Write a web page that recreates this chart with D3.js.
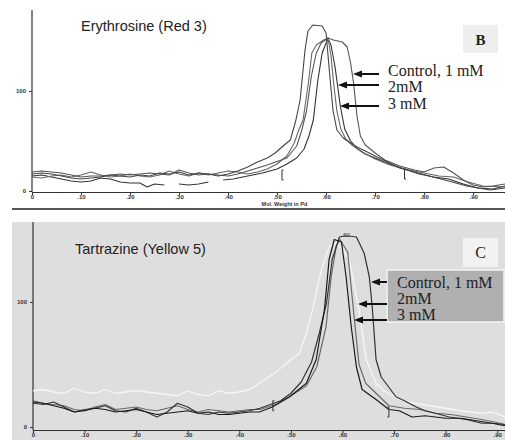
<!DOCTYPE html>
<html><head><meta charset="utf-8">
<script src="https://cdn.jsdelivr.net/npm/d3@7"></script>
<style>body{margin:0;background:#fff}svg{display:block}</style>
</head><body>
<script>
// ---- data: panel B (Erythrosine) [mol. weight unit, signal] ----
const bTicks = [0,10,20,30,40,50,60,70,80,90];
const bYTicks = [0,100];
const bCurveA = [[0,17],[2,18],[4,17],[6,15],[8,13],[10,12],[12,13],[14,14],[16,16],[18,15],[20,14],[22,16],[24,15],[26,18],[28,17],[30,19],[32,16],[34,18],[36,17],[38,15],[40,17],[42,20],[44,24],[46,29],[48,33],[49.6,38],[51,44],[52.7,51],[53.8,70],[54.7,91],[55.7,141],[56.3,160],[57.3,166],[59.2,165],[60,158],[60.6,124],[61.4,81],[62.2,61],[63.5,53],[65,48],[66.3,44],[68,40],[70.4,34],[73,28],[75,23],[78,19],[81.8,14],[85,10],[88.7,5],[91,3],[93.5,1],[96.5,3]];
const bCurveB = [[0,19],[2,20],[4,19],[6,18],[8,16],[10,14],[12,15],[14,15],[16,16],[18,17],[20,16],[22,17],[24,18],[26,17],[28,16],[30,21],[32,18],[34,16],[36,17],[38,16],[40,15],[42,17],[44,20],[48,26],[52,33],[54,45],[55,60],[56,80],[57,115],[58,138],[59,148],[60.4,153],[61.5,151],[63.3,149],[64.3,144],[65,128],[65.6,108],[66.3,75],[67,55],[68,46],[70,38],[72,31],[75,25],[78,21],[80,19],[82,23],[84,24],[86,18],[88,11],[90,6],[92,4],[94,5],[96.5,7]];
const bCurveC = [[0,14],[2,13],[4,15],[6,16],[8,14],[10,16],[12,19],[14,16],[16,14],[18,15],[20,17],[22,15],[24,14],[26,16],[28,20],[30,17],[32,15],[34,18],[36,16],[38,18],[40,20],[42,19],[44,17],[46,19],[48,22],[50,27],[52,35],[53.5,48],[54.5,62],[55.3,71],[56.3,105],[57.1,138],[58,146],[59.5,151],[60.4,153],[61,135],[61.6,105],[62.2,80],[63,62],[64,52],[65.5,45],[67,40],[70,32],[73,26],[76,22],[80,18],[83,15],[86,14],[89,9],[92,5],[96.5,4]];
const bCurveD = [[0,15],[2,16],[4,14],[6,12],[8,10],[10,9],[12,10],[14,13],[16,12],[18,9],[20,8],[22,8],[23.5,4],[25,7],[27,6],[29,null],[30,7],[32,6],[34,7],[36,9],[38,null],[39,11],[41,12],[44,15],[47,18],[50,22],[52,27],[54,33],[55.5,42],[56.5,55],[57.4,71],[58.3,110],[59.2,138],[60,148],[60.4,152],[61,146],[61.8,125],[62.9,85],[63.8,62],[65,50],[66.5,42],[68,37],[70,33],[73,27],[76,22],[79,17],[82,14],[85,12],[88,7],[91,3],[94,2],[96.5,5]];

// ---- data: panel C (Tartrazine) ----
const cTicks = [0,10,20,30,40,50,60,70,80,90];
const cYTicks = [0,100];
const cCurveE = [[0,20],[2,19],[4,17],[6,15],[8,12],[10,13],[12,15],[14,14],[16,12],[18,13],[20,14],[22,12],[24,10],[26,11],[28,12],[30,13],[32,11],[34,12],[36,10],[38,10],[40,11],[42,12],[43.9,12],[46.4,16],[49.7,24],[53,35],[54.9,54],[56.5,94],[57.4,134],[58.4,150],[59.8,148],[60.7,120],[61.7,80],[62.7,48],[63.8,30],[66.5,22],[69,14],[71,13],[73.5,8],[76,9],[78,8],[80,7],[83,7],[86,5],[89,3],[91.5,1]];
const cCurveF = [[0,19],[2,18],[4,20],[6,16],[8,12],[10,14],[12,15],[14,17],[16,13],[18,12],[20,15],[22,12],[24,8],[26,12],[28,19],[30,16],[32,11],[34,10],[36,12],[38,11],[40,12],[42,13],[44,15],[46,18],[48,21],[50,27],[52,36],[54,52],[55.5,75],[56.9,99],[58,134],[59.4,152],[60.7,153],[62.7,152],[64.2,139],[65.2,120],[65.8,94],[66.5,54],[67.5,40],[70.4,24],[72,21],[74.3,16],[76,13],[78,11],[80.7,8],[84,6],[87,3],[89,3],[91.5,2]];
const cCurveG = [[0,29],[2,30],[4,28],[6,27],[8,31],[10,28],[12,27],[14,30],[16,27],[18,28],[20,29],[22,28],[24,27],[26,26],[28,25],[30,29],[32,26],[34,25],[36,29],[38,27],[40,28],[42,30],[45.8,40],[48,47],[51.6,59],[53,75],[54.2,94],[55.9,126],[57.4,144],[58.8,147],[60,142],[61.3,134],[63.2,94],[64.6,54],[66.5,35],[68,29],[71,22],[74,19],[77,17],[80,15],[83,13],[87,11],[89,12],[91.5,8]];
const cCurveH = [[0,21],[2,19],[4,18],[6,17],[8,14],[10,13],[12,16],[14,18],[16,14],[18,15],[20,16],[22,14],[24,13],[26,15],[28,17],[30,14],[32,12],[34,14],[36,13],[38,12],[40,13],[42,14],[44,14],[47,18],[50,25],[53,33],[55,48],[56.8,80],[57.8,120],[58.8,145],[59.5,150],[61,140],[62.3,86],[63.2,50],[64.5,35],[67,25],[69,17],[72,15],[75,14],[78,11],[81,10],[84,8],[87,6],[89.5,4],[91.5,2]];

const legendLabels = ["Control, 1 mM","2mM","3 mM"];

const W = 505, H = 440;
const svg = d3.select("body").append("svg").attr("width",W).attr("height",H);

svg.append("rect").attr("x",0).attr("y",0).attr("width",W).attr("height",215).attr("fill","#fff");
svg.append("line").attr("x1",12).attr("x2",W).attr("y1",209).attr("y2",209).attr("stroke","#555").attr("stroke-width",2);
svg.append("rect").attr("x",12).attr("y",222).attr("width",W-12).attr("height",H-222).attr("fill","#dedede");

function panel(opt){
  const g = svg.append("g");
  const x = d3.scaleLinear().domain(opt.xDomain).range([opt.x0, W]);
  const y = d3.scaleLinear().domain([0,100]).range([opt.y0, opt.y100]);
  const xa = d3.axisBottom(x).tickValues(opt.xTicks).tickSize(3).tickFormat(d=>d===0?"0":"."+d);
  const xg = g.append("g").attr("transform",`translate(0,${opt.axisY})`).call(xa);
  xg.select(".domain").attr("stroke","#333").attr("stroke-width",1.2);
  xg.selectAll("text").attr("font-size",6).attr("font-family","Arial").attr("font-weight","bold").attr("fill","#333").attr("dy","0.2em");
  xg.selectAll(".tick line").attr("stroke","#333");
  const ya = d3.axisLeft(y).tickValues(opt.yTicks).tickSize(3).tickFormat(d3.format("d"));
  const yg = g.append("g").attr("transform",`translate(${opt.x0},0)`).call(ya);
  yg.select(".domain").attr("stroke","#333").attr("stroke-width",1.2).attr("d",`M0,${opt.yTop}V${opt.axisY}`);
  yg.selectAll("text").attr("font-size",6).attr("font-family","Arial").attr("font-weight","bold").attr("fill","#333");
  yg.selectAll(".tick line").attr("stroke","#333");
  const line = d3.line().defined(d=>d[1]!==null).x(d=>x(d[0])).y(d=>y(d[1]));
  opt.curves.forEach(c=>{
    g.append("path").attr("d",line(c.data)).attr("fill","none").attr("stroke",c.color).attr("stroke-width",c.w||1.1).attr("stroke-linejoin","round");
  });
  return {x,y,g};
}

const pB = panel({xDomain:[0,96.5], x0:32, y0:191, y100:91, axisY:192, yTop:10, xTicks:bTicks, yTicks:bYTicks,
  curves:[{data:bCurveD,color:"#333"},{data:bCurveC,color:"#666"},{data:bCurveB,color:"#555"},{data:bCurveA,color:"#444"}]});
const pC = panel({xDomain:[0,91.5], x0:33, y0:427, y100:302, axisY:430, yTop:222, xTicks:cTicks, yTicks:cYTicks,
  curves:[{data:cCurveG,color:"#f6f6f6",w:1.3},{data:cCurveH,color:"#6a6a6a",w:1.2},{data:cCurveF,color:"#333",w:1.2},{data:cCurveE,color:"#1a1a1a",w:1.2}]});

svg.append("text").attr("x",pB.x(51.5)).attr("y",206).attr("text-anchor","middle").attr("font-size",5.5).attr("font-weight","bold").attr("font-family","Arial").attr("fill","#333").text("Mol. Weight in Pd");

[[pB,51,16],[pB,76,17]].forEach(([p,xv,yv])=>{
  p.g.append("path").attr("d",`M${p.x(xv)+1.5},${p.y(yv)-5}h-1.5v10h1.5`).attr("fill","none").attr("stroke","#333");
});
[[pC,46.5,17,1],[pC,69,12,-1]].forEach(([p,xv,yv,s])=>{
  p.g.append("path").attr("d",`M${p.x(xv)+1.5*s},${p.y(yv)-5}h${-1.5*s}v10h${1.5*s}`).attr("fill","none").attr("stroke","#333");
});
svg.append("text").attr("x",pC.x(60.8)).attr("y",237).attr("text-anchor","middle").attr("font-size",6).attr("font-family","Arial").attr("fill","#333").text("60");

svg.append("text").attr("x",81).attr("y",31).attr("font-size",14.5).attr("font-family","Arial").attr("fill","#222").text("Erythrosine (Red 3)");
svg.append("text").attr("x",75).attr("y",254).attr("font-size",14.5).attr("font-family","Arial").attr("fill","#222").text("Tartrazine (Yellow 5)");

svg.append("rect").attr("x",463).attr("y",25).attr("width",35).attr("height",28).attr("fill","#eeeeee");
svg.append("text").attr("x",480.5).attr("y",45).attr("text-anchor","middle").attr("font-size",15).attr("font-weight","bold").attr("font-family","Liberation Serif").attr("fill","#222").text("B");
svg.append("rect").attr("x",463).attr("y",238).attr("width",35).attr("height",29).attr("fill","#f2f2f2");
svg.append("text").attr("x",480.5).attr("y",258).attr("text-anchor","middle").attr("font-size",16).attr("font-family","Liberation Serif").attr("fill","#222").text("C");

svg.append("rect").attr("x",387).attr("y",270).attr("width",117).attr("height",52).attr("fill","#b0b0b0").attr("stroke","#f4f4f4").attr("stroke-width",1.5);

function arrow(tip,tail,yy){
  svg.append("line").attr("x1",tip+8).attr("x2",tail).attr("y1",yy).attr("y2",yy).attr("stroke","#111").attr("stroke-width",2);
  svg.append("path").attr("d",`M${tip},${yy}L${tip+9},${yy-3.5}L${tip+9},${yy+3.5}Z`).attr("fill","#111");
}
const legB = [[76,353,74],[92,338,85],[109,340,106]];
legendLabels.forEach((t,i)=>{
  svg.append("text").attr("x",388).attr("y",legB[i][0]).attr("font-size",16).attr("font-family","Liberation Serif").attr("fill","#222").text(t);
  arrow(legB[i][1],379,legB[i][2]);
});
const legC = [[288,371,282],[304,358,304],[320,354,320]];
legendLabels.forEach((t,i)=>{
  svg.append("text").attr("x",397).attr("y",legC[i][0]).attr("font-size",16).attr("font-family","Liberation Serif").attr("fill","#222").text(t);
  arrow(legC[i][1],387,legC[i][2]);
});
</script>
</body></html>
